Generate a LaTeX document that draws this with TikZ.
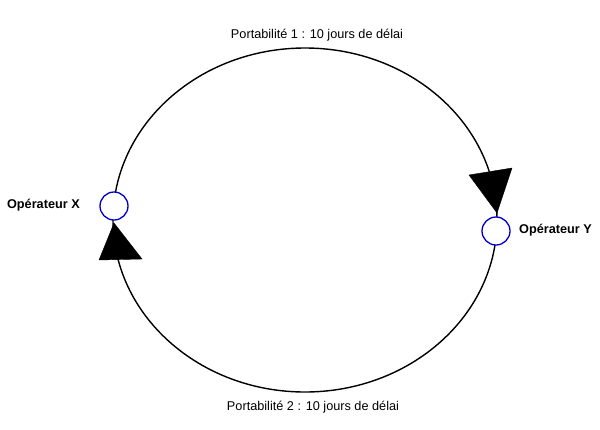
\documentclass[tikz,border=0pt]{standalone}
\usepackage{fontspec}
\setmainfont{Liberation Sans}
\begin{document}
\begin{tikzpicture}[x=1pt,y=-1pt,
  op/.style={circle,draw=blue!80!black,line width=1.3pt,fill=white,minimum size=28pt,inner sep=0pt},
  lab/.style={font=\fontsize{12.7}{14}\selectfont,inner sep=0pt},
  oplab/.style={font=\fontsize{12.7}{14}\selectfont\bfseries,inner sep=0pt},
  tri/.style={fill=black,draw=black}]
\useasboundingbox (0,0) rectangle (600,429);
\draw[line width=1.4pt] (305,220) ellipse [x radius=192, y radius=172];
\node[op] (x) at (114,206) {};
\node[op] (y) at (496,231) {};
\node[oplab,anchor=east] (xl) at (80,205) {Opérateur X};
\node[oplab,anchor=west] (yl) at (519,230) {Opérateur Y};
\node[lab] (t1) at (317,35) {Portabilité 1 : 10 jours de délai};
\node[lab] (t2) at (313,407) {Portabilité 2 : 10 jours de délai};
\coordinate (ax1) at (114,223);
\coordinate (ax2) at (99,260);
\coordinate (ax3) at (142,259);
\coordinate (ay1) at (469,175);
\coordinate (ay2) at (512,168);
\coordinate (ay3) at (497,213);
\filldraw[tri] (ax1) -- (ax2) -- (ax3) -- cycle;
\filldraw[tri] (ay1) -- (ay2) -- (ay3) -- cycle;
\end{tikzpicture}
\end{document}
